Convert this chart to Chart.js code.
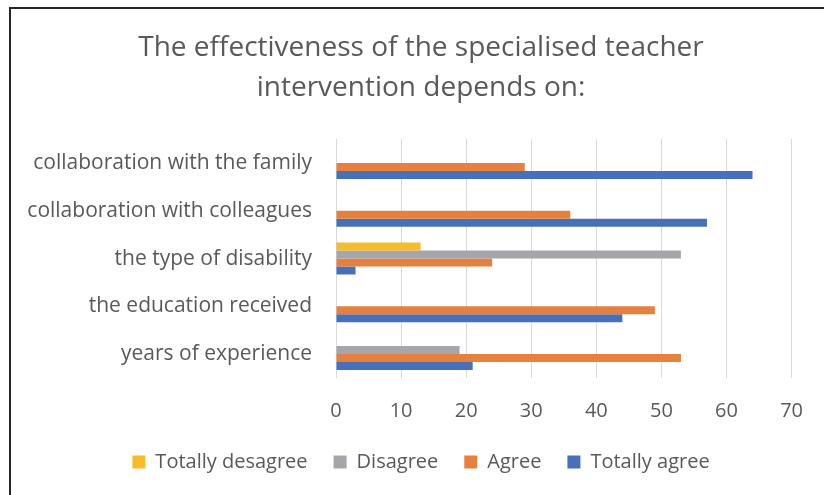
<!DOCTYPE html>
<html><head><meta charset="utf-8">
<script src="https://cdn.jsdelivr.net/npm/chart.js@4/dist/chart.umd.min.js"></script>
<style>
html,body{margin:0;padding:0;background:#fff;}
#wrap{position:relative;width:824px;height:495px;overflow:hidden;background:#fff;}
#frame{position:absolute;left:9px;top:7px;width:900px;height:600px;border-left:2px solid #262626;border-top:2px solid #262626;}
#c{position:absolute;left:0;top:0;}
</style></head>
<body>
<div id="wrap"><div id="frame"></div><canvas id="c" width="824" height="495"></canvas></div>
<script>
const titleLines = ['The effectiveness of the specialised teacher', 'intervention depends on:'];
const categories = ['collaboration with the family', 'collaboration with colleagues', 'the type of disability', 'the education received', 'years of experience'];
const seriesNames = ['Totally desagree', 'Disagree', 'Agree', 'Totally agree'];
const totallyDesagree = [0, 0, 13, 0, 0];
const disagree = [0, 0, 53, 0, 19];
const agree = [29, 36, 24, 49, 53];
const totallyAgree = [64, 57, 3, 44, 21];
const xTicks = [0, 10, 20, 30, 40, 50, 60, 70];
const colors = ['#F5BD2D', '#A5A6AA', '#E6803F', '#4671B9'];

const FONT = 'Open Sans';
const TXT = '#595959';
const seriesValues = [totallyDesagree, disagree, agree, totallyAgree];

new Chart(document.getElementById('c'), {
  type: 'bar',
  data: {
    labels: categories,
    datasets: seriesNames.map((n, i) => ({
      label: n,
      data: seriesValues[i],
      backgroundColor: colors[i],
      borderWidth: 0,
      barPercentage: 1,
      categoryPercentage: 0.67
    }))
  },
  options: {
    indexAxis: 'y',
    responsive: false,
    animation: false,
    devicePixelRatio: 1,
    layout: { padding: { left: 25, right: 7, top: 0, bottom: 13 } },
    plugins: {
      title: {
        display: true,
        text: titleLines,
        color: TXT,
        font: { family: FONT, size: 28, weight: 'normal', lineHeight: 1.43 },
        padding: { top: 28, bottom: 31 }
      },
      legend: {
        position: 'bottom',
        labels: {
          color: TXT,
          font: { family: FONT, size: 20 },
          boxWidth: 13,
          boxHeight: 13,
          padding: 26
        }
      },
      tooltip: { enabled: false }
    },
    scales: {
      x: {
        min: 0, max: 70,
        afterBuildTicks: (s) => { s.ticks = xTicks.map(v => ({ value: v })); },
        afterFit: (s) => { s.height = 48; },
        ticks: { color: TXT, font: { family: FONT, size: 20 }, padding: 21 },
        grid: { color: '#d9d9d9', lineWidth: 1, drawTicks: false },
        border: { display: false }
      },
      y: {
        afterFit: (s) => { s.width = 311; },
        ticks: { color: TXT, font: { family: FONT, size: 21 }, padding: 24 },
        grid: { display: false, drawTicks: false },
        border: { display: false }
      },
      yRight: {
        type: 'category',
        position: 'right',
        afterFit: (s) => { s.width = 25; },
        ticks: { display: false },
        grid: { display: false, drawTicks: false },
        border: { display: false }
      }
    }
  }
});
</script>
</body></html>
